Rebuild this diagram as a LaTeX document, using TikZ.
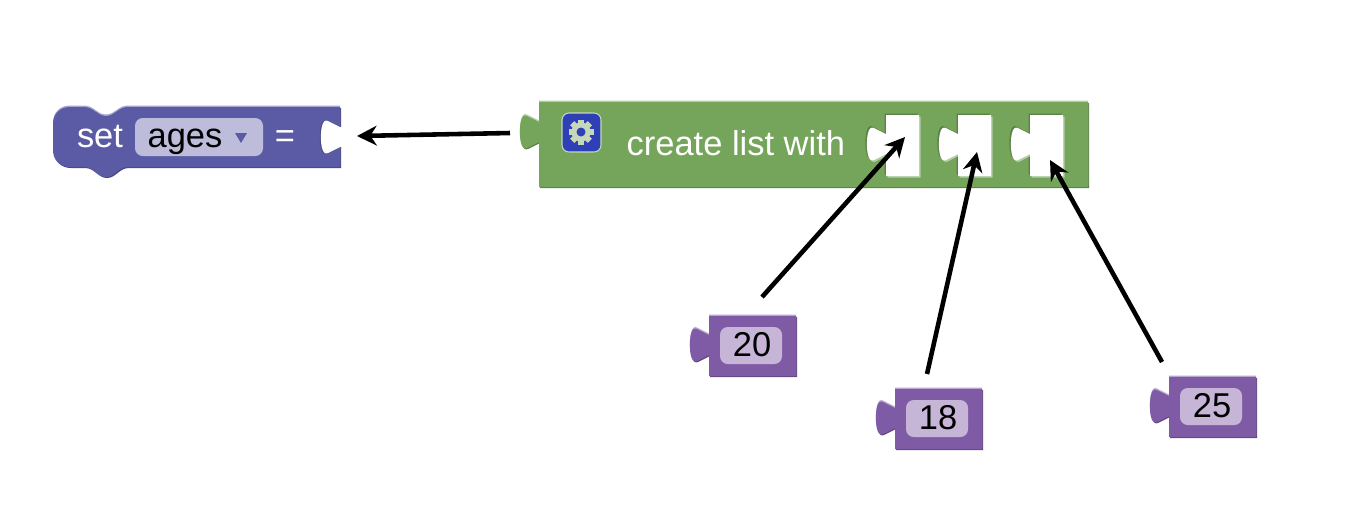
\documentclass[tikz,border=0pt]{standalone}
\usepackage{fontspec}
\setmainfont{Liberation Sans}
\usetikzlibrary{arrows.meta}
\definecolor{setblue}{HTML}{5B5BA5}
\definecolor{listgreen}{HTML}{75A55B}
\definecolor{numpurple}{HTML}{805BA5}
\definecolor{gearblue}{HTML}{2F3FB5}
\definecolor{gearpale}{HTML}{C6D8BA}
\tikzset{
	blocktext/.style={font=\fontsize{9.8pt}{11pt}\selectfont, inner sep=0pt, anchor=base},
	fieldbox/.style={rounded corners=2.2pt},
	linkarrow/.style={line width=1.3pt, -{Stealth[length=5.6pt, width=5.6pt]}}
}
% puzzle tab, runs up the left edge from (0,10) to (0,-10)
\def\tabcurve{-- (-12,16) .. controls (-15,17.5) and (-17,15) .. (-18,11) .. controls (-19.5,5) and (-19.5,-5) .. (-18,-11) .. controls (-17,-15) and (-15,-17.5) .. (-12,-16) -- (0,-10)}
\def\raisedblock#1#2{
	\fill[#1!78!black, shift={(1,1)}] #2;
	\fill[#1!55!white, shift={(0,-1.5)}] #2;
	\fill[#1] #2;
}
\def\socket#1#2{
	\fill[#1!78!black, shift={(-1.5,-1.5)}] #2;
	\fill[#1!55!white, shift={(1.5,1.5)}] #2;
	\fill[white] #2;
}
\def\numblock#1#2#3{
	\begin{scope}[shift={(#2,#3)}]
		\raisedblock{numpurple}{(0,10) \tabcurve -- (0,-29) -- (87,-29) -- (87,31) -- (0,31) -- cycle}
		\fill[numpurple!45!white, fieldbox] (11,-18) rectangle (73,19);
		\node[blocktext] (num#1) at (43,11) {#1};
	\end{scope}
}

\begin{document}
\begin{tikzpicture}[x=0.01cm, y=-0.01cm]
	\useasboundingbox (0,0) rectangle (1370,529);

	%%%%% SET BLOCK %%%%%
	\raisedblock{setblue}{(70,107) -- (84,107) .. controls (94,107) and (97,116) .. (106,116) .. controls (115,116) and (118,107) .. (128,107) -- (340,107) -- (340,167) -- (128,167) .. controls (118,167) and (115,177) .. (106,177) .. controls (97,177) and (94,167) .. (84,167) -- (70,167) .. controls (60,167) and (53,160) .. (53,150) -- (53,124) .. controls (53,114) and (60,107) .. (70,107) -- cycle}
	\fill[setblue!40!white, fieldbox] (135,118) rectangle (263,156);
	\fill[setblue] (235,133) -- (247,133) -- (241,143) -- cycle;
	\node[blocktext, text=white] (settext) at (100,147) {set};
	\node[blocktext] (agestext) at (185,147) {ages};
	\node[blocktext, text=white] (eqtext) at (285,147) {=};
	\begin{scope}[shift={(340,137)}]
		\fill[setblue!78!black, shift={(-1,0)}] (3,10) -- (0,10) \tabcurve -- (3,-10) -- cycle;
		\fill[white] (3,10) -- (0,10) \tabcurve -- (3,-10) -- cycle;
	\end{scope}

	%%%%% LIST BLOCK %%%%%
	\begin{scope}[shift={(539,132)}]
		\raisedblock{listgreen}{(0,10) \tabcurve -- (0,-30) -- (549,-30) -- (549,55) -- (0,55) -- cycle}
	\end{scope}
	\foreach \holex in {886,958,1030} {
		\begin{scope}[shift={(\holex,144)}]
			\socket{listgreen}{(0,10) \tabcurve -- (0,-29) -- (33,-29) -- (33,32) -- (0,32) -- cycle}
		\end{scope}
	}
	\node[blocktext, anchor=base west, text=white] (listtext) at (626,155) {create list with};

	% gear button
	\draw[draw=gearpale, fill=gearblue, line width=0.3pt, rounded corners=2pt] (562,113) rectangle (601,152);
	\foreach \toothangle in {0,45,...,315} {
		\fill[gearpale, rotate around={\toothangle:(581,132)}] (578,119.5) rectangle (584,126);
	}
	\fill[gearpale] (581,132) circle (9.5);
	\fill[gearblue] (581,132) circle (4.5);

	%%%%% NUMBERS %%%%%
	\numblock{20}{709}{345}
	\numblock{18}{895}{418}
	\numblock{25}{1169}{406}

	%%%%% ARROWS %%%%%
	\coordinate (listout) at (510,133);
	\coordinate (setin) at (357,136);
	\coordinate (from20) at (762,297);
	\coordinate (to20) at (905,137);
	\coordinate (from18) at (927,374);
	\coordinate (to18) at (977,152);
	\coordinate (from25) at (1162,362);
	\coordinate (to25) at (1050,160);
	\draw[linkarrow] (listout) -- (setin);
	\draw[linkarrow] (from20) -- (to20);
	\draw[linkarrow] (from18) -- (to18);
	\draw[linkarrow] (from25) -- (to25);
\end{tikzpicture}
\end{document}
